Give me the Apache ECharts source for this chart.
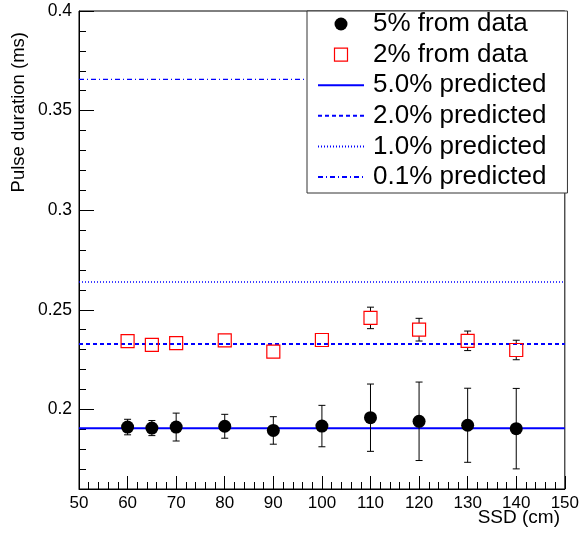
<!DOCTYPE html>
<html><head><meta charset="utf-8">
<script src="https://cdn.jsdelivr.net/npm/echarts@6/dist/echarts.min.js"></script>
<style>html,body{margin:0;padding:0;background:#fff}#c{width:582px;height:541px}</style>
</head><body><div id="c"></div>
<script>
// ---- data ----
const ssd = [60, 65, 70, 80, 90, 100, 110, 120, 130, 140];
const dur5 = [0.1911, 0.1906, 0.1911, 0.1915, 0.1894, 0.1916, 0.1958, 0.1940, 0.1920, 0.1903];
const err5 = [0.0039, 0.0038, 0.0070, 0.0060, 0.0069, 0.0104, 0.0169, 0.0197, 0.0186, 0.0202];
const dur2 = [0.2342, 0.2324, 0.2332, 0.2346, 0.2290, 0.2348, 0.2459, 0.2400, 0.2344, 0.2298];
const err2 = [0.0020, 0.0020, 0.0020, 0.0020, 0.0020, 0.0020, 0.0054, 0.0057, 0.0049, 0.0049];
const predNames = ['5.0% predicted', '2.0% predicted', '1.0% predicted', '0.1% predicted'];
const predValues = [0.1905, 0.2328, 0.2639, 0.3657];
const xRange = [50, 150];
const yRange = [0.16, 0.4];
const yMajorTicks = [0.2, 0.25, 0.3, 0.35, 0.4];
const dataNames = ['5% from data', '2% from data'];

const FONT = 'Liberation Sans, Arial, Helvetica, sans-serif';
const BLUE = '#0000ff';
const predStyles = [
  {type: 'solid', width: 2},
  {type: [4, 3], width: 2},
  {type: [1, 2], width: 1.5},
  {type: [5, 3, 1, 3], width: 1.2}
];

function errRender(gap, cap) {
  return function (params, api) {
    const x = api.value(0), y = api.value(1), e = api.value(2);
    const c = api.coord([x, y]);
    const t = api.coord([x, y + e]);
    const b = api.coord([x, y - e]);
    const style = {stroke: '#000', lineWidth: 1, fill: null};
    const ch = [];
    if (c[1] - t[1] > gap) {
      ch.push({type: 'line', shape: {x1: c[0], y1: c[1] - gap, x2: c[0], y2: t[1]}, style});
      ch.push({type: 'line', shape: {x1: c[0] - cap, y1: t[1], x2: c[0] + cap, y2: t[1]}, style});
    }
    if (b[1] - c[1] > gap) {
      ch.push({type: 'line', shape: {x1: c[0], y1: c[1] + gap, x2: c[0], y2: b[1]}, style});
      ch.push({type: 'line', shape: {x1: c[0] - cap, y1: b[1], x2: c[0] + cap, y2: b[1]}, style});
    }
    return {type: 'group', children: ch};
  };
}

const series = [];
predNames.forEach((n, i) => {
  series.push({
    name: n, type: 'line', yAxisIndex: 0, symbol: 'none', silent: true, z: 2,
    data: [[xRange[0], predValues[i]], [xRange[1], predValues[i]]],
    lineStyle: {color: BLUE, type: predStyles[i].type, width: predStyles[i].width},
    itemStyle: {color: BLUE}
  });
});
series.push({
  type: 'custom', renderItem: errRender(0, 3.5), z: 3, silent: true,
  data: ssd.map((x, i) => [x, dur5[i], err5[i]])
});
series.push({
  type: 'custom', renderItem: errRender(6.5, 3.5), z: 3, silent: true,
  data: ssd.map((x, i) => [x, dur2[i], err2[i]])
});
series.push({
  name: dataNames[0], type: 'scatter', symbol: 'circle', symbolSize: 13, z: 5,
  itemStyle: {color: '#000', opacity: 1},
  data: ssd.map((x, i) => [x, dur5[i]])
});
series.push({
  name: dataNames[1], type: 'scatter', symbol: 'rect', symbolSize: 13, z: 5,
  itemStyle: {color: 'rgba(0,0,0,0)', borderColor: '#ff0000', borderWidth: 1.2, opacity: 1},
  data: ssd.map((x, i) => [x, dur2[i]])
});

const legendData = [
  {name: dataNames[0], icon: 'circle', itemStyle: {color: '#000', opacity: 1}},
  {name: dataNames[1], icon: 'path://M0,0H10V10H0Z', itemStyle: {color: 'rgba(0,0,0,0)', borderColor: '#ff0000', borderWidth: 1.2, opacity: 1}}
].concat(predNames.map(n => ({name: n, itemStyle: {color: 'rgba(0,0,0,0)', borderWidth: 0, opacity: 0}})));

const chart = echarts.init(document.getElementById('c'), null, {renderer: 'canvas'});
chart.setOption({
  animation: false,
  backgroundColor: '#fff',
  grid: {left: 79, right: 14, top: 11, bottom: 52, show: true, borderColor: '#000', borderWidth: 1, backgroundColor: 'transparent'},
  xAxis: {
    type: 'value', min: xRange[0], max: xRange[1], interval: 10,
    axisLine: {show: true, onZero: false, lineStyle: {color: '#000', width: 1}},
    axisTick: {show: true, inside: true, length: 13, lineStyle: {color: '#000'}},
    minorTick: {show: true, splitNumber: 5, length: 7, lineStyle: {color: '#000'}},
    splitLine: {show: false},
    axisLabel: {color: '#000', fontSize: 17, fontFamily: FONT, margin: 6}
  },
  yAxis: [{
    type: 'value', min: yRange[0], max: yRange[1], interval: 0.01,
    axisLine: {show: true, onZero: false, lineStyle: {color: '#000', width: 1}},
    axisTick: {show: true, inside: true, length: 7, lineStyle: {color: '#000'}},
    splitLine: {show: false},
    axisLabel: {color: '#000', fontSize: 17.5, fontFamily: FONT, margin: 7, customValues: yMajorTicks}
  }, {
    type: 'value', min: yRange[0], max: yRange[1], position: 'left',
    axisLine: {show: false},
    axisTick: {show: true, inside: true, length: 15, lineStyle: {color: '#000'}, customValues: yMajorTicks},
    axisLabel: {show: false},
    splitLine: {show: false}
  }],
  legend: {
    data: legendData,
    orient: 'vertical', left: 307, top: 11,
    backgroundColor: '#fff', borderColor: '#333', borderWidth: 1,
    padding: [0, 21, 3, 10],
    itemWidth: 46, itemHeight: 13, itemGap: 4.6,
    symbolKeepAspect: true,
    textStyle: {color: '#000', fontSize: 26, fontFamily: FONT, lineHeight: 26, padding: [0, 0, 0, 4]},
    selectedMode: false, inactiveColor: '#000'
  },
  graphic: [
    {type: 'text', x: 19, y: 32, rotation: Math.PI / 2,
     style: {text: 'Pulse duration (ms)', font: '18.5px ' + FONT, fill: '#000', align: 'right', verticalAlign: 'middle'}},
    {type: 'text', x: 560, y: 518,
     style: {text: 'SSD (cm)', font: '19px ' + FONT, fill: '#000', align: 'right', verticalAlign: 'middle'}}
  ],
  series: series
});
</script></body></html>
